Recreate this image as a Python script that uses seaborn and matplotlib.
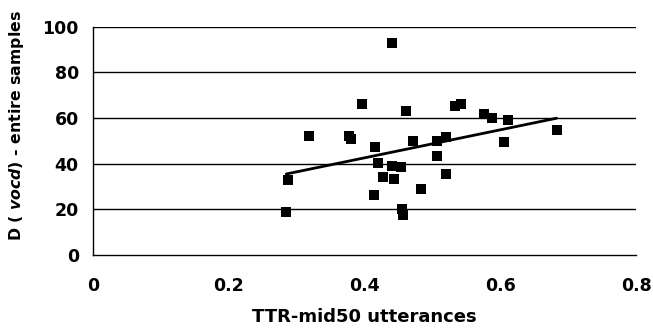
import numpy as np
import pandas as pd
import seaborn as sns
from matplotlib import pyplot as plt

# Valores (TTR-mid50 vs D)
ttr = [0.285, 0.288, 0.318, 0.378, 0.380, 0.396, 0.414, 0.416, 0.420, 0.428,
       0.440, 0.441, 0.444, 0.454, 0.456, 0.457, 0.462, 0.472, 0.484, 0.507,
       0.507, 0.520, 0.520, 0.533, 0.543, 0.576, 0.588, 0.606, 0.612, 0.683]
vocd = [18.7, 32.8, 52.2, 52.0, 51.0, 66.1, 26.3, 47.1, 40.4, 34.3,
        38.9, 92.9, 33.3, 38.7, 20.0, 17.5, 63.2, 50.0, 28.7, 50.0,
        43.3, 51.8, 35.4, 65.2, 66.1, 61.6, 59.8, 49.3, 59.1, 54.7]

x_ticks = [0, 0.2, 0.4, 0.6, 0.8]
x_labels = ["0", "0.2", "0.4", "0.6", "0.8"]
y_ticks = [0, 20, 40, 60, 80, 100]

df = pd.DataFrame({"ttr": ttr, "vocd": vocd})

sns.set_style("white")
plt.rcParams["font.family"] = ["DejaVu Sans"]
plt.rcParams["font.weight"] = "bold"
plt.rcParams["text.color"] = "black"
plt.rcParams["axes.labelcolor"] = "black"
plt.rcParams["xtick.color"] = "black"
plt.rcParams["ytick.color"] = "black"
plt.rcParams["mathtext.fontset"] = "custom"
plt.rcParams["mathtext.bfit"] = "DejaVu Sans:italic:bold"

fig, ax = plt.subplots(figsize=(6.53, 3.29), dpi=100)
fig.subplots_adjust(left=0.142, right=0.974, top=0.919, bottom=0.225)

# Linhas de grade horizontais
for yv in y_ticks[1:]:
    ax.axhline(yv, color="black", linewidth=1.0, zorder=1)

sns.regplot(data=df, x="ttr", y="vocd", ax=ax, ci=None, truncate=True,
            marker="s",
            scatter_kws={"s": 50, "color": "black", "alpha": 1.0,
                         "linewidths": 0, "zorder": 3},
            line_kws={"color": "black", "linewidth": 2.0, "zorder": 2})

ax.set_xlim(0, 0.8)
ax.set_ylim(0, 100)
ax.set_xticks(x_ticks)
ax.set_xticklabels(x_labels)
ax.set_yticks(y_ticks)

for side in ["top", "right"]:
    ax.spines[side].set_visible(False)
for side in ["left", "bottom"]:
    ax.spines[side].set_color("black")
    ax.spines[side].set_linewidth(1.0)

ax.tick_params(axis="x", direction="out", length=5, width=1,
               labelsize=12.5, pad=11)
ax.tick_params(axis="y", direction="inout", length=8, width=1,
               labelsize=12.5, pad=6)
for lab in ax.get_xticklabels() + ax.get_yticklabels():
    lab.set_fontweight("bold")

ax.set_xlabel("TTR-mid50 utterances", fontsize=13, fontweight="bold", labelpad=9)
ax.set_ylabel(r"D ( $\mathbfit{vocd}$) - entire samples", fontsize=11.3,
              fontweight="bold")
ax.yaxis.set_label_coords(-0.122, 0.565)

fig.savefig("out.png", dpi=100)
